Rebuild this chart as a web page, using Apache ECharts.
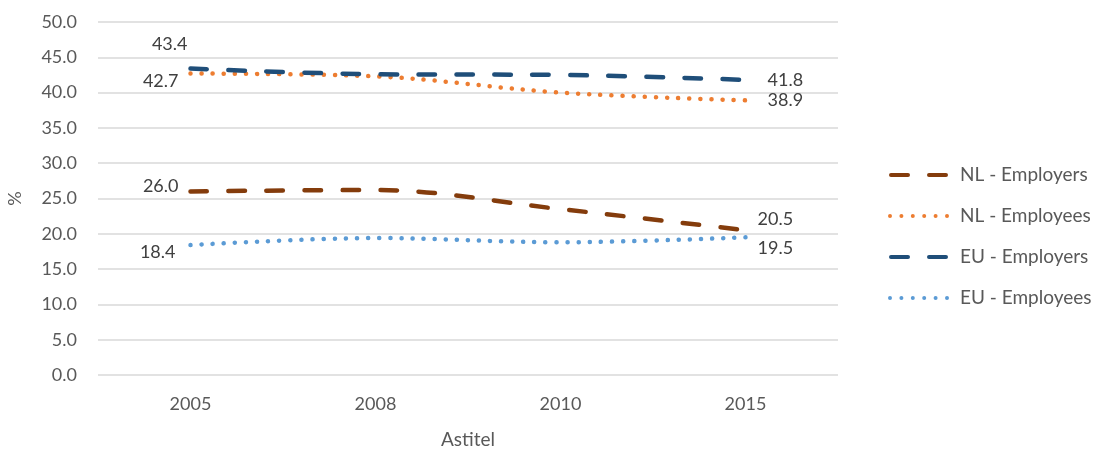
<!DOCTYPE html>
<html>
<head>
<meta charset="utf-8">
<script src="https://cdn.jsdelivr.net/npm/echarts@6/dist/echarts.min.js"></script>
<style>
  html, body { margin: 0; padding: 0; background: #fff; }
  #chart { width: 1101px; height: 452px; }
</style>
</head>
<body>
<div id="chart"></div>
<script>
// Share of contributions (%) by year
const years = ['2005', '2008', '2010', '2015'];
const nlEmployers = [26.0, 26.2, 23.5, 20.5];
const nlEmployees = [42.7, 42.3, 40.0, 38.9];
const euEmployers = [43.4, 42.6, 42.5, 41.8];
const euEmployees = [18.4, 19.4, 18.8, 19.5];
const yTicks = [0, 5, 10, 15, 20, 25, 30, 35, 40, 45, 50];

const FONT = 'Lato, "Open Sans", sans-serif';
const TEXT = '#595959';

// Legend glyphs: two rounded dashes, or a row of six dots
const DASH_ICON = 'path://M2,0 H19 A2,2 0 0 1 19,4 H2 A2,2 0 0 1 2,0 Z M40,0 H57 A2,2 0 0 1 57,4 H40 A2,2 0 0 1 40,0 Z';
const DOT_ICON = 'path://' + [2, 13.4, 24.8, 36.2, 47.6, 59]
  .map(cx => `M${cx - 2},2 A2,2 0 1 0 ${cx + 2},2 A2,2 0 1 0 ${cx - 2},2 Z`).join(' ');

// Value labels only on the first and last year; each end gets its own gap and vertical shift
function withEndLabels(values, first, last) {
  return values.map((v, i) => {
    if (i === 0) {
      return { value: v, label: { show: true, position: 'left', distance: first[0], offset: [0, first[1]] } };
    }
    if (i === values.length - 1) {
      return { value: v, label: { show: true, position: 'right', distance: last[0], offset: [0, last[1]] } };
    }
    return { value: v };
  });
}

function lineSeries(name, values, color, dashed, first, last) {
  return {
    name: name,
    type: 'line',
    smooth: 0.35,
    symbol: 'circle',
    symbolSize: 0.1,
    showSymbol: true,
    data: withEndLabels(values, first, last),
    lineStyle: {
      color: color,
      width: 4.5,
      type: dashed ? [16.5, 21.5] : [0.1, 11],
      cap: 'round'
    },
    itemStyle: { color: color },
    label: {
      show: false,
      color: '#404040',
      fontFamily: FONT,
      fontSize: 18,
      formatter: p => p.value.toFixed(1)
    },
    emphasis: { disabled: true }
  };
}

const chart = echarts.init(document.getElementById('chart'), null, { renderer: 'canvas' });
chart.setOption({
  animation: false,
  backgroundColor: '#ffffff',
  grid: { left: 98, right: 263, top: 22, bottom: 77, outerBoundsMode: 'none', containLabel: false },
  legend: {
    orient: 'vertical',
    left: 883,
    top: 160,
    itemGap: 21,
    itemWidth: 61,
    itemHeight: 4,
    textStyle: { color: TEXT, fontFamily: FONT, fontSize: 19, lineHeight: 20, padding: [0, 0, 0, 6] },
    data: [
      { name: 'NL - Employers', icon: DASH_ICON },
      { name: 'NL - Employees', icon: DOT_ICON },
      { name: 'EU - Employers', icon: DASH_ICON },
      { name: 'EU - Employees', icon: DOT_ICON }
    ]
  },
  xAxis: {
    type: 'category',
    data: years,
    boundaryGap: true,
    name: 'Astitel',
    nameLocation: 'middle',
    nameGap: 55,
    nameTextStyle: { color: TEXT, fontFamily: FONT, fontSize: 19 },
    axisLine: { show: false },
    axisTick: { show: false },
    axisLabel: { color: TEXT, fontFamily: FONT, fontSize: 18, margin: 20 }
  },
  yAxis: {
    type: 'value',
    min: yTicks[0],
    max: yTicks[yTicks.length - 1],
    interval: yTicks[1] - yTicks[0],
    name: '%',
    nameLocation: 'middle',
    nameGap: 74,
    nameTextStyle: { color: TEXT, fontFamily: FONT, fontSize: 18 },
    axisLine: { show: false },
    axisTick: { show: false },
    axisLabel: { color: TEXT, fontFamily: FONT, fontSize: 18, margin: 21, formatter: v => v.toFixed(1) },
    splitLine: { lineStyle: { color: '#D9D9D9', width: 1.5 } }
  },
  series: [
    lineSeries('NL - Employers', nlEmployers, '#843C0C', true, [12, -5], [12, -11]),
    lineSeries('NL - Employees', nlEmployees, '#ED7D31', false, [12, 8], [22, 0]),
    lineSeries('EU - Employers', euEmployers, '#1F4E79', true, [3, -24], [22, 0]),
    lineSeries('EU - Employees', euEmployees, '#5B9BD5', false, [15, 7], [12, 11])
  ]
});
</script>
</body>
</html>
